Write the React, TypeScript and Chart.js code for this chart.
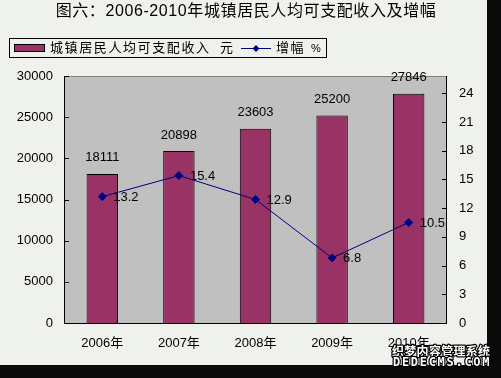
import React, { useEffect, useRef } from "react";
import { Chart, registerables } from "chart.js";

Chart.register(...registerables);

const categories = ["2006年", "2007年", "2008年", "2009年", "2010年"];
const incomeValues = [18111, 20898, 23603, 25200, 27846];
const growthValues = [13.2, 15.4, 12.9, 6.8, 10.5];
const incomeTickStep = 5000;
const incomeMax = 30000;
const growthTickStep = 3;
const growthMax = 25.8;
const titleText = "图六：2006-2010年城镇居民人均可支配收入及增幅";
const incomeLabel = "城镇居民人均可支配收入";
const incomeUnit = "元";
const growthLabel = "增幅";
const growthUnit = "%";
const watermarkCn = "织梦内容管理系统";
const watermarkEn = "DEDECMS.COM";

const FONT = "'Liberation Sans', 'Noto Sans CJK SC', sans-serif";
const BAR_COLOR = "#993366";
const LINE_COLOR = "#000080";
const BG = "#eff1ed";
const PLOT_BG = "#c0c0c0";

const decorPlugin = {
  id: "decor",
  beforeDraw(chart: any) {
    const { ctx, width, height, chartArea } = chart;
    ctx.save();
    ctx.fillStyle = "#0a0a0a";
    ctx.fillRect(0, 0, width, height);
    ctx.fillStyle = BG;
    ctx.fillRect(0, 0, 487, 365);
    ctx.fillStyle = PLOT_BG;
    ctx.fillRect(chartArea.left, chartArea.top, chartArea.right - chartArea.left, chartArea.bottom - chartArea.top);
    ctx.restore();
  },
  beforeDatasetsDraw(chart: any) {
    const { ctx, chartArea } = chart;
    const { left, right, top, bottom } = chartArea;
    ctx.save();
    ctx.lineWidth = 1;
    ctx.strokeStyle = "#808080";
    ctx.beginPath();
    ctx.moveTo(left, top + 0.5);
    ctx.lineTo(right, top + 0.5);
    ctx.stroke();
    ctx.strokeStyle = "#000";
    ctx.beginPath();
    ctx.moveTo(left + 0.5, top);
    ctx.lineTo(left + 0.5, bottom);
    ctx.moveTo(left, bottom + 0.5);
    ctx.lineTo(right, bottom + 0.5);
    ctx.moveTo(right - 0.5, top);
    ctx.lineTo(right - 0.5, bottom);
    ctx.stroke();
    const y = chart.scales.y;
    const y1 = chart.scales.y1;
    ctx.beginPath();
    y.ticks.forEach((t: any) => {
      const py = Math.round(y.getPixelForValue(t.value)) + 0.5;
      ctx.moveTo(left, py);
      ctx.lineTo(left + 5, py);
    });
    y1.ticks.forEach((t: any) => {
      const py = Math.round(y1.getPixelForValue(t.value)) + 0.5;
      ctx.moveTo(right - 5, py);
      ctx.lineTo(right, py);
    });
    ctx.stroke();
    ctx.restore();
  },
  afterDraw(chart: any) {
    const { ctx } = chart;
    ctx.save();
    ctx.fillStyle = "#000";
    // bar value labels
    ctx.font = `13px ${FONT}`;
    ctx.textAlign = "center";
    ctx.textBaseline = "middle";
    const barMeta = chart.getDatasetMeta(0);
    barMeta.data.forEach((el: any, i: number) => {
      ctx.fillText(String(incomeValues[i]), el.x, el.y - 16);
    });
    // line value labels
    ctx.textAlign = "left";
    const lineMeta = chart.getDatasetMeta(1);
    lineMeta.data.forEach((el: any, i: number) => {
      ctx.fillText(growthValues[i].toFixed(1), el.x + 11, el.y + 1);
    });
    // title
    ctx.font = `16px ${FONT}`;
    (ctx as any).letterSpacing = "0.6px";
    ctx.textAlign = "center";
    ctx.fillText(titleText, 246, 12);
    // legend
    (ctx as any).letterSpacing = "0px";
    ctx.fillStyle = BG;
    ctx.fillRect(9, 38, 318, 20);
    ctx.strokeStyle = "#000";
    ctx.lineWidth = 1;
    ctx.strokeRect(9.5, 38.5, 317, 19);
    ctx.fillStyle = BAR_COLOR;
    ctx.fillRect(14, 44, 31, 8);
    ctx.strokeRect(14.5, 44.5, 30, 7);
    ctx.fillStyle = "#000";
    ctx.font = `13px ${FONT}`;
    ctx.textAlign = "left";
    (ctx as any).letterSpacing = "1.6px";
    ctx.fillText(incomeLabel, 50, 48);
    ctx.fillText(incomeUnit, 220, 48);
    ctx.fillText(growthLabel, 276, 48);
    (ctx as any).letterSpacing = "0px";
    ctx.font = `11px ${FONT}`;
    ctx.fillText(growthUnit, 311, 49);
    ctx.strokeStyle = LINE_COLOR;
    ctx.beginPath();
    ctx.moveTo(241, 48.5);
    ctx.lineTo(271, 48.5);
    ctx.stroke();
    ctx.fillStyle = LINE_COLOR;
    ctx.beginPath();
    ctx.moveTo(256, 45);
    ctx.lineTo(259.5, 48.5);
    ctx.lineTo(256, 52);
    ctx.lineTo(252.5, 48.5);
    ctx.closePath();
    ctx.fill();
    // watermark
    ctx.lineJoin = "round";
    ctx.font = `bold 12px 'Noto Sans CJK SC', sans-serif`;
    (ctx as any).letterSpacing = "0.3px";
    ctx.textAlign = "left";
    ctx.lineWidth = 2.5;
    ctx.strokeStyle = "#000";
    ctx.fillStyle = "#fff";
    ctx.strokeText(watermarkCn, 392, 351);
    ctx.fillText(watermarkCn, 392, 351);
    ctx.font = `bold 12px 'DejaVu Sans Mono', monospace`;
    (ctx as any).letterSpacing = "1.7px";
    ctx.strokeText(watermarkEn, 393, 363);
    ctx.fillText(watermarkEn, 393, 363);
    ctx.restore();
  },
};

export default function App() {
  const ref = useRef<HTMLCanvasElement | null>(null);
  useEffect(() => {
    if (!ref.current) return;
    const tickFont = { family: FONT, size: 13 };
    const plain = (v: any) => String(v);
    const chart = new Chart(ref.current, {
      type: "bar",
      data: {
        labels: categories,
        datasets: [
          {
            type: "bar",
            label: incomeLabel + " " + incomeUnit,
            data: incomeValues,
            backgroundColor: BAR_COLOR,
            borderColor: "#000",
            borderWidth: 1,
            barPercentage: 0.41,
            categoryPercentage: 1,
            yAxisID: "y",
            order: 2,
          },
          {
            type: "line",
            label: growthLabel + " " + growthUnit,
            data: growthValues,
            borderColor: LINE_COLOR,
            borderWidth: 1,
            pointStyle: "rectRot",
            pointRadius: 4,
            pointBackgroundColor: LINE_COLOR,
            pointBorderColor: LINE_COLOR,
            tension: 0,
            yAxisID: "y1",
            order: 1,
          } as any,
        ],
      },
      options: {
        responsive: false,
        animation: false,
        devicePixelRatio: 1,
        layout: { padding: { top: 76, left: 0, right: 0, bottom: 13 } },
        plugins: {
          legend: { display: false },
          title: { display: false },
          tooltip: { enabled: false },
        },
        scales: {
          x: {
            grid: { display: false, drawTicks: false },
            border: { display: false },
            ticks: { font: tickFont, color: "#000", padding: 13 },
            afterFit: (s: any) => {
              s.height = 42;
            },
          },
          y: {
            position: "left",
            min: 0,
            max: incomeMax,
            ticks: { stepSize: incomeTickStep, font: tickFont, color: "#000", padding: 11, callback: plain },
            grid: { display: false, drawTicks: false },
            border: { display: false },
            afterFit: (s: any) => {
              s.width = 64;
            },
          },
          y1: {
            position: "right",
            min: 0,
            max: growthMax,
            ticks: { stepSize: growthTickStep, font: tickFont, color: "#000", padding: 12, callback: plain },
            grid: { display: false, drawTicks: false },
            border: { display: false },
            afterBuildTicks: (s: any) => {
              s.ticks = s.ticks.filter((t: any) => Math.abs(t.value / growthTickStep - Math.round(t.value / growthTickStep)) < 1e-6);
            },
            afterFit: (s: any) => {
              s.width = 54;
            },
          },
        },
      } as any,
      plugins: [decorPlugin],
    });
    return () => chart.destroy();
  }, []);
  return (
    <div style={{ position: "fixed", left: 0, top: 0, width: 501, height: 378 }}>
      <canvas ref={ref} width={501} height={378} style={{ display: "block" }} />
    </div>
  );
}
